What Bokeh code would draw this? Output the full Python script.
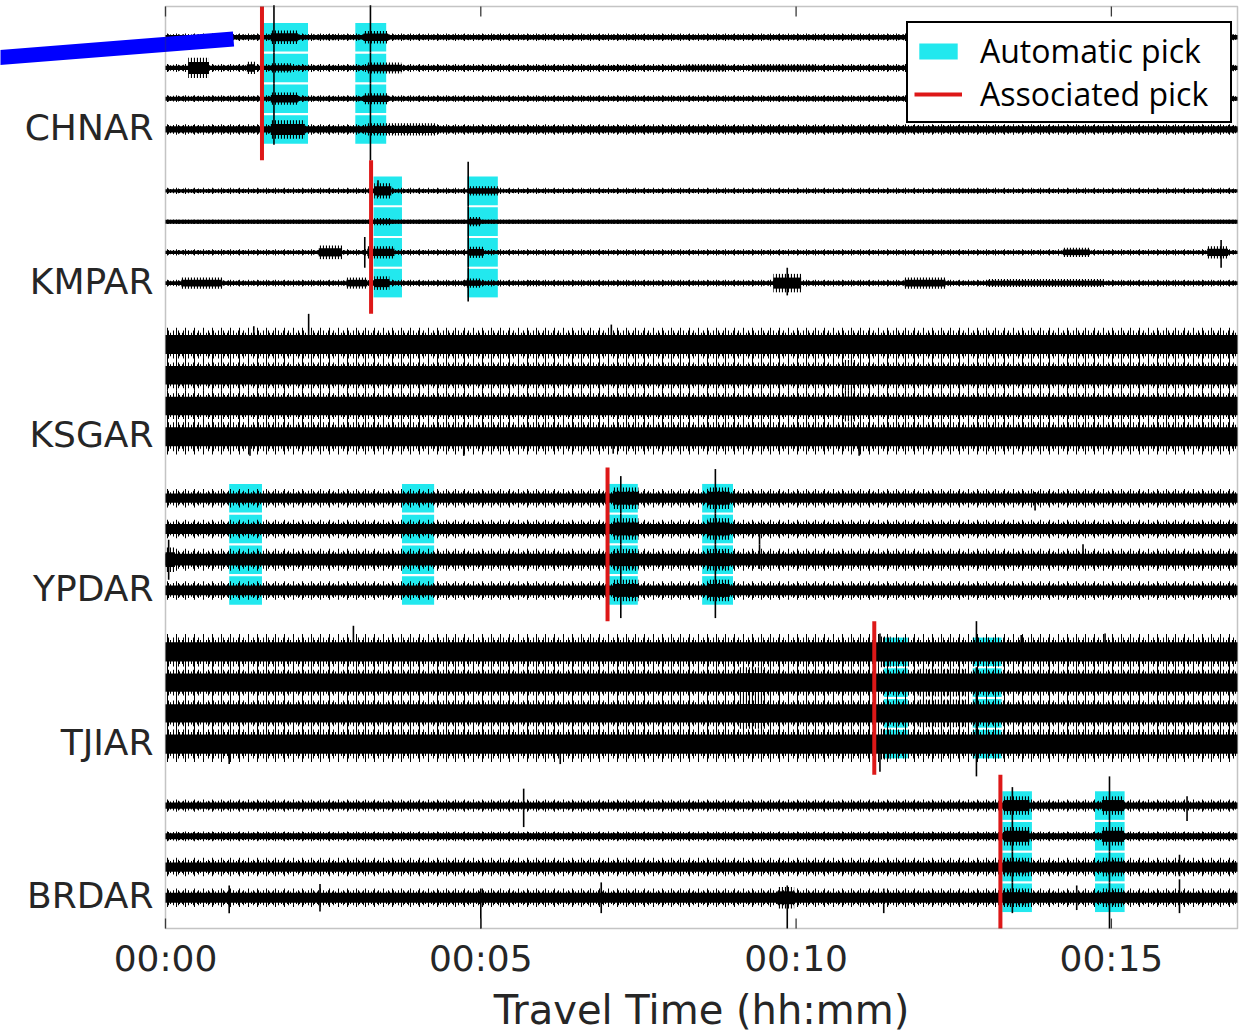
from bokeh.plotting import figure
from bokeh.models import Range1d, Legend, LegendItem, ColumnDataSource, BoxAnnotation
from bokeh.core.properties import value
from bokeh.embed import file_html
from bokeh.resources import INLINE

# ---------------- data ----------------
stations = ["CHNAR", "KMPAR", "KSGAR", "YPDAR", "TJIAR", "BRDAR"]
traces_per_station = 4
time_ticks = [0, 5, 10, 15]
time_tick_labels = ["00:00", "00:05", "00:10", "00:15"]
x_title = "Travel Time (hh:mm)"
t_end = 17.0  # minutes

# background noise of every trace: solid core and hairy fringe (half-amplitudes, trace-spacing units)
trace_core = [0.07, 0.07, 0.065, 0.10,
              0.05, 0.065, 0.05, 0.06,
              0.31, 0.30, 0.30, 0.31,
              0.15, 0.16, 0.19, 0.16,
              0.31, 0.30, 0.30, 0.31,
              0.10, 0.10, 0.15, 0.16]
trace_hair = [0.12, 0.13, 0.11, 0.17,
              0.10, 0.065, 0.10, 0.11,
              0.55, 0.50, 0.50, 0.58,
              0.30, 0.30, 0.36, 0.30,
              0.58, 0.50, 0.50, 0.58,
              0.20, 0.16, 0.30, 0.30]

# bursts of energy: (trace, start min, end min, half amplitude)
bursts = [
    (0, 1.67, 2.10, 0.22), (0, 3.14, 3.53, 0.20), (0, 2.43, 2.76, 0.10), (0, 5.16, 5.38, 0.08), (0, 6.91, 7.57, 0.08),
    (1, 0.36, 0.69, 0.33), (1, 1.29, 1.42, 0.20), (1, 1.67, 2.00, 0.15), (1, 3.20, 3.74, 0.18),
    (1, 7.02, 7.46, 0.10), (1, 8.22, 8.88, 0.12), (1, 9.31, 10.30, 0.12),
    (2, 1.67, 2.10, 0.20), (2, 3.14, 3.53, 0.18), (2, 9.64, 10.84, 0.08),
    (3, 1.67, 2.21, 0.30), (3, 3.20, 4.29, 0.20), (3, 4.29, 5.38, 0.10), (3, 11.60, 17.00, 0.10),
    (4, 3.31, 3.58, 0.25), (4, 4.80, 5.27, 0.15), (4, 5.60, 8.60, 0.06), (4, 12.26, 13.03, 0.08),
    (5, 3.31, 3.58, 0.12), (5, 4.80, 5.00, 0.15),
    (6, 2.43, 2.80, 0.22), (6, 3.20, 3.63, 0.20), (6, 4.80, 5.05, 0.18), (6, 14.23, 14.66, 0.15), (6, 16.52, 16.85, 0.20),
    (7, 0.25, 0.90, 0.18), (7, 2.87, 3.20, 0.18), (7, 3.31, 3.55, 0.22), (7, 4.75, 5.00, 0.15), (7, 5.71, 5.93, 0.10),
    (7, 9.64, 10.08, 0.30), (7, 11.72, 12.37, 0.18), (7, 13.03, 14.88, 0.13),
    (9, 10.73, 10.95, 0.50), (10, 10.73, 10.95, 0.50),
    (12, 7.10, 7.50, 0.35), (13, 7.10, 7.50, 0.35), (14, 7.10, 7.50, 0.35), (15, 7.10, 7.50, 0.35),
    (12, 8.60, 8.95, 0.35), (13, 8.60, 8.95, 0.35), (14, 8.60, 8.95, 0.35), (15, 8.60, 8.95, 0.35),
    (14, 0.00, 0.15, 0.40),
    (17, 9.10, 9.53, 0.50), (18, 9.10, 9.53, 0.50), (17, 11.93, 12.70, 0.45), (18, 11.93, 12.70, 0.45),
    (16, 11.30, 11.50, 0.50), (19, 11.30, 11.50, 0.50),
    (20, 13.30, 13.70, 0.30), (21, 13.30, 13.70, 0.30), (22, 13.30, 13.70, 0.30), (23, 13.30, 13.70, 0.30),
    (20, 14.85, 15.20, 0.30), (21, 14.85, 15.20, 0.30), (22, 14.85, 15.20, 0.30), (23, 14.85, 15.20, 0.30),
    (23, 9.70, 9.97, 0.35),
]

# single large swings: (trace, minute, reach above, reach below)
spikes = [
    (0, 1.72, 1.04, 0.5), (1, 1.72, 0.5, 0.5), (2, 1.72, 0.5, 0.5), (3, 1.72, 0.5, 0.5),
    (0, 3.25, 1.04, 0.5), (1, 3.25, 0.5, 0.5), (2, 3.25, 0.5, 0.5), (3, 3.25, 0.5, 1.0),
    (4, 4.80, 0.95, 0.5), (5, 4.80, 0.5, 0.5), (6, 4.80, 0.5, 0.5), (7, 4.80, 0.5, 0.6),
    (6, 3.16, 0.5, 0.5), (6, 16.74, 0.4, 0.5), (7, 9.86, 0.5, 0.4), (4, 3.37, 0.35, 0.2),
    (8, 2.27, 1.0, 0.3), (8, 7.07, 0.65, 0.3), (8, 1.40, 0.6, 0.2),
    (11, 1.34, 0.3, 0.62), (11, 4.73, 0.3, 0.62), (11, 11.00, 0.3, 0.62), (11, 7.10, 0.3, 0.55),
    (12, 7.22, 0.72, 0.5), (13, 7.22, 0.5, 0.5), (14, 7.22, 0.5, 0.5), (15, 7.22, 0.5, 0.9),
    (12, 8.72, 0.95, 0.5), (13, 8.72, 0.5, 0.5), (14, 8.72, 0.5, 0.5), (15, 8.72, 0.5, 0.9),
    (14, 0.05, 0.65, 0.65), (13, 9.42, 0.2, 0.5), (14, 9.42, 0.5, 0.3), (12, 13.79, 0.2, 0.4), (14, 14.55, 0.5, 0.2),
    (19, 11.33, 0.3, 0.9), (16, 11.33, 0.6, 0.3), (16, 12.86, 1.0, 0.3), (17, 12.86, 0.5, 0.5),
    (18, 12.86, 0.5, 0.5), (19, 12.86, 0.5, 1.05), (19, 1.01, 0.3, 0.65), (19, 6.26, 0.3, 0.65),
    (16, 2.98, 0.85, 0.3), (16, 13.57, 0.55, 0.3), (16, 14.90, 0.6, 0.2),
    (20, 5.68, 0.55, 0.7), (20, 16.20, 0.3, 0.5),
    (20, 13.43, 0.6, 0.5), (21, 13.43, 0.5, 0.5), (22, 13.43, 0.5, 0.5), (23, 13.43, 0.5, 0.5),
    (20, 14.97, 0.95, 0.5), (21, 14.97, 0.5, 0.5), (22, 14.97, 0.5, 0.5), (23, 14.97, 0.5, 1.0),
    (23, 1.01, 0.4, 0.5), (23, 2.45, 0.45, 0.45), (23, 5.00, 0.3, 1.0), (23, 6.91, 0.5, 0.5),
    (23, 9.86, 0.4, 1.0), (23, 11.39, 0.3, 0.5), (23, 14.45, 0.4, 0.4), (23, 16.08, 0.6, 0.5),
    (22, 16.08, 0.4, 0.3),
]

# automatic picks: (station, start min, end min)
auto_picks = [
    (0, 1.54, 2.26), (0, 3.01, 3.50),
    (1, 3.30, 3.75), (1, 4.79, 5.27),
    (3, 1.01, 1.53), (3, 3.75, 4.26), (3, 7.02, 7.49), (3, 8.51, 9.00),
    (4, 11.39, 11.77), (4, 12.80, 13.26),
    (5, 13.27, 13.74), (5, 14.74, 15.21),
]
# associated picks: (station, minute)
associated_picks = [(0, 1.53), (1, 3.26), (3, 7.01), (4, 11.24), (5, 13.24)]

# ---------------- layout (pixel geometry of the page) ----------------
W, H = 1240, 1032
FL, FR, FT, FB = 165, 1237, 6, 928          # plot-box edges in pixels
slot = traces_per_station + 1
n_tr = len(stations) * traces_per_station
n_slots = slot * len(stations)
ppm = (FR - FL) / t_end                     # pixels per minute
pps = (FB - FT) / n_slots                   # pixels per trace slot


def xpx(v):
    return (v - FL) / ppm


def ypx(v):
    return (v - FT) / pps


def centre(k):
    return slot * (k // traces_per_station) + (k % traces_per_station) + 1


p = figure(width=W, height=H, x_range=Range1d(xpx(0), xpx(W)), y_range=Range1d(ypx(H), ypx(0)),
           output_backend="svg", toolbar_location=None, x_axis_location=None, y_axis_location=None,
           min_border=0, min_border_left=0, min_border_right=0, min_border_top=0, min_border_bottom=0)
p.grid.visible = False
p.outline_line_color = None
p.background_fill_color = "white"
p.border_fill_color = "white"

# cyan automatic-pick boxes, one per trace
cx0, cx1, ctop, cbot = [], [], [], []
for a, t0, t1 in auto_picks:
    for j in range(traces_per_station):
        c = centre(a * traces_per_station + j)
        cx0.append(t0); cx1.append(t1); ctop.append(c - 0.465); cbot.append(c + 0.465)
cyan_r = p.quad(left=cx0, right=cx1, top=ctop, bottom=cbot, fill_color="#22e8ee", line_color=None)

# background noise of each trace: layered vertical hairs + solid core
cs = [centre(k) for k in range(n_tr)]
for frac, scale in [(1.0, 9), (0.6, 5), (0.3, 3)]:
    half = [w + frac * (h - w) for w, h in zip(trace_core, trace_hair)]
    p.quad(left=[0.0] * n_tr, right=[t_end] * n_tr,
           top=[c - e for c, e in zip(cs, half)], bottom=[c + e for c, e in zip(cs, half)],
           fill_color=None, line_color=None,
           hatch_pattern="vertical_line", hatch_color="black", hatch_scale=scale, hatch_weight=1)
p.quad(left=[0.0] * n_tr, right=[t_end] * n_tr,
       top=[c - w for c, w in zip(cs, trace_core)], bottom=[c + w for c, w in zip(cs, trace_core)],
       fill_color="black", line_color=None)

# bursts
bsrc = ColumnDataSource(dict(
    l=[b[1] for b in bursts], r=[b[2] for b in bursts],
    st=[centre(b[0]) - 0.6 * b[3] for b in bursts], sb=[centre(b[0]) + 0.6 * b[3] for b in bursts],
    ht=[centre(b[0]) - b[3] for b in bursts], hb=[centre(b[0]) + b[3] for b in bursts],
))
p.quad(left="l", right="r", top="ht", bottom="hb", source=bsrc, fill_color=None, line_color=None,
       hatch_pattern="vertical_line", hatch_color="black", hatch_scale=3, hatch_weight=1.2)
p.quad(left="l", right="r", top="st", bottom="sb", source=bsrc, fill_color="black", line_color=None)

# spikes
ssrc = ColumnDataSource(dict(
    x=[s[1] for s in spikes],
    y0=[centre(s[0]) - s[2] for s in spikes], y1=[centre(s[0]) + s[3] for s in spikes],
))
p.segment(x0="x", y0="y0", x1="x", y1="y1", source=ssrc, line_color="black", line_width=1.6)

# associated picks (red)
red_r = p.segment(x0=[a[1] for a in associated_picks], y0=[slot * a[0] for a in associated_picks],
                  x1=[a[1] for a in associated_picks], y1=[slot * a[0] + slot for a in associated_picks],
                  line_color="#dd1818", line_width=4)

# plot box, inward ticks on bottom and top edges
p.add_layout(BoxAnnotation(left=0, right=t_end, top=0, bottom=n_slots, fill_alpha=0,
                           line_color="#3a3a3a", line_width=1.5))
tick_len = 10 / pps
p.segment(x0=time_ticks, y0=[n_slots] * len(time_ticks), x1=time_ticks,
          y1=[n_slots - tick_len] * len(time_ticks), line_color="#3a3a3a", line_width=1.3)
p.segment(x0=time_ticks, y0=[0] * len(time_ticks), x1=time_ticks,
          y1=[tick_len] * len(time_ticks), line_color="#3a3a3a", line_width=1.3)

# tick labels, station labels and axis title (real text)
p.text(x=time_ticks, y=[ypx(937)] * len(time_ticks), text=time_tick_labels,
       text_font=value("DejaVu Sans"), text_font_size="36px", text_color="#262626",
       text_align="center", text_baseline="top")
label_pos = [slot * i + traces_per_station for i in range(len(stations))]
p.text(x=[xpx(153)] * len(stations), y=[v - 2 / pps for v in label_pos], text=stations,
       text_font=value("DejaVu Sans"), text_font_size="36px", text_color="#262626",
       text_align="right", text_baseline="middle")
p.text(x=[t_end / 2], y=[ypx(986)], text=[x_title],
       text_font=value("DejaVu Sans"), text_font_size="40px", text_color="#262626",
       text_align="center", text_baseline="top")

# blue pointer line at the top left
p.segment(x0=[xpx(-6)], y0=[ypx(57.5)], x1=[xpx(233)], y1=[ypx(38.5)],
          line_color="#0000ff", line_width=15, line_cap="butt")

legend = Legend(items=[LegendItem(label="Automatic pick", renderers=[cyan_r]),
                       LegendItem(label="Associated pick", renderers=[red_r])],
                location=(906, H - 123), orientation="vertical")
legend.border_line_color = "black"
legend.border_line_width = 2
legend.border_line_alpha = 1
legend.background_fill_color = "white"
legend.background_fill_alpha = 1
legend.label_text_font = "Open Sans"
legend.label_text_font_size = "32px"
legend.label_text_color = "black"
legend.glyph_width = 48
legend.glyph_height = 20
legend.label_standoff = 18
legend.label_width = 244
legend.padding = 6
legend.spacing = 0
legend.margin = 0
p.add_layout(legend)

open("out.html", "w").write(file_html(p, INLINE))
